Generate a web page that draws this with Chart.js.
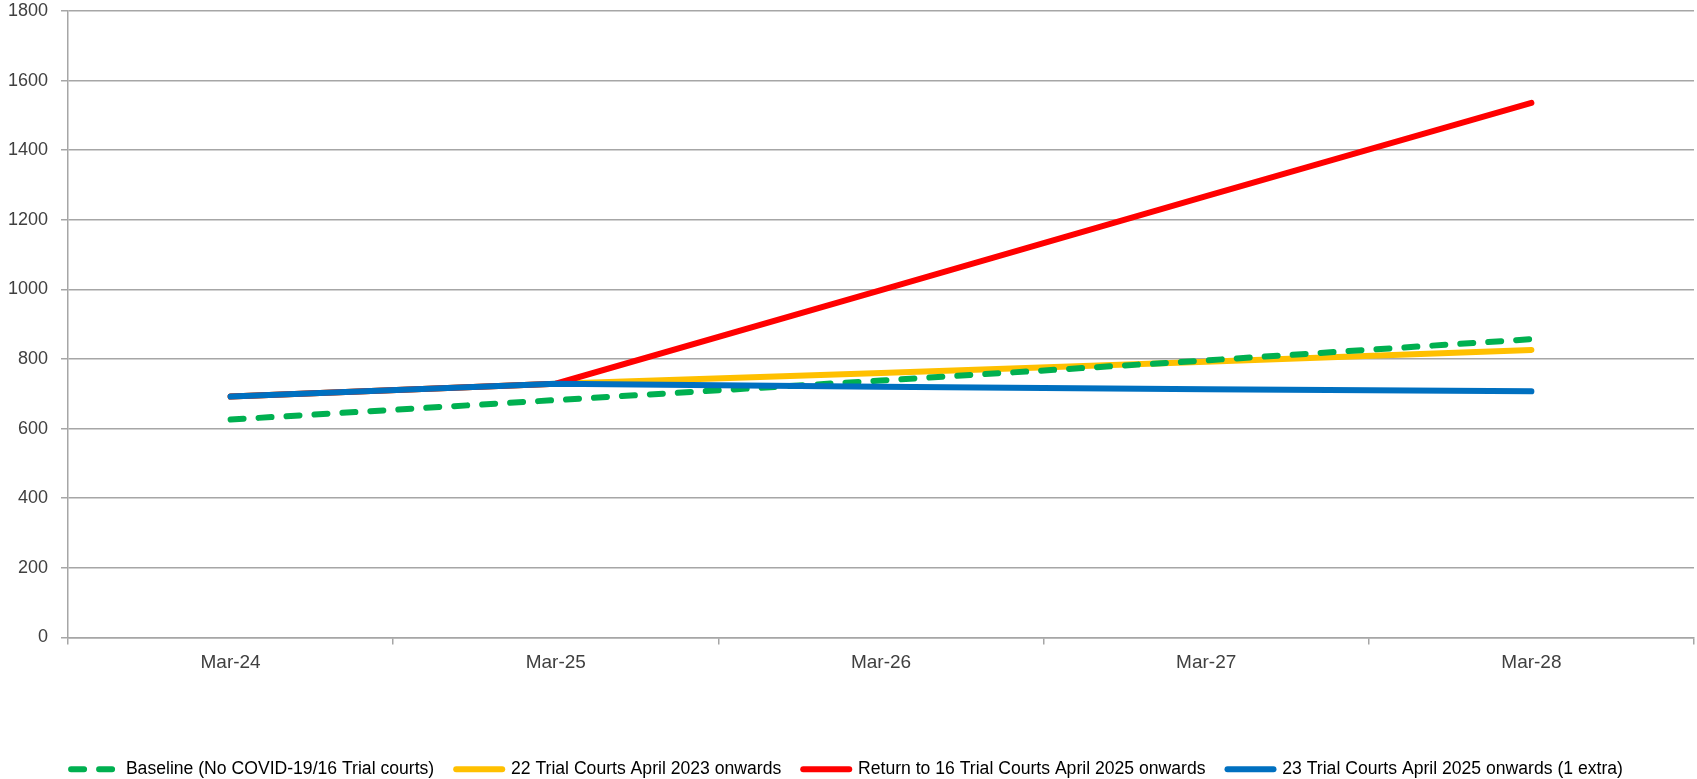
<!DOCTYPE html>
<html>
<head>
<meta charset="utf-8">
<script src="https://cdn.jsdelivr.net/npm/chart.js@4"></script>
<style>
  html, body { margin: 0; padding: 0; background: #fff; }
  #wrap { width: 1697px; height: 779px; position: relative; }
</style>
</head>
<body>
<div id="wrap"><canvas id="chart"></canvas></div>
<script>
// values
const categories = ['Mar-24', 'Mar-25', 'Mar-26', 'Mar-27', 'Mar-28']
const baseline = [626, 682, 738, 796, 857]
const trial22 = [692, 729, 760, 792, 826]
const return16 = [692, 729, 998, 1268, 1536]
const trial23 = [692, 729, 720, 713, 707]
const yTicks = [0, 200, 400, 600, 800, 1000, 1200, 1400, 1600, 1800]

const gridColour = '#a6a6a6'
const textColour = '#404040'
const fontFamily = "'Liberation Sans', Arial, sans-serif"

function series(label, data, colour, order, dash) {
    return {
        label: label,
        data: data,
        borderColor: colour,
        backgroundColor: colour,
        borderWidth: 6,
        borderDash: dash || [],
        borderCapStyle: 'round',
        pointRadius: 0,
        pointHoverRadius: 0,
        pointStyle: 'line',
        tension: 0,
        fill: false,
        order: order
    }
}

// legend items take the dataset's dash pattern too
function legendLabels(chart) {
    const items = Chart.defaults.plugins.legend.labels.generateLabels(chart)
    items.forEach(item => {
        const ds = chart.data.datasets[item.datasetIndex]
        item.lineDash = ds.borderDash
        item.lineCap = 'round'
        item.lineWidth = ds.borderWidth
        item.strokeStyle = ds.borderColor
    })
    return items
}

new Chart(document.getElementById('chart'), {
    type: 'line',
    data: {
        labels: categories,
        datasets: [
            series('Baseline (No COVID-19/16 Trial courts)', baseline, '#00b050', 1, [13, 15]),
            series('22 Trial Courts April 2023 onwards', trial22, '#ffc000', 3),
            series('Return to 16 Trial Courts April 2025 onwards', return16, '#ff0000', 2),
            series('23 Trial Courts April 2025 onwards (1 extra)', trial23, '#0070c0', 0)
        ]
    },
    options: {
        responsive: true,
        maintainAspectRatio: false,
        animation: false,
        layout: { padding: { top: 0, right: 3, bottom: -9, left: 0 } },
        plugins: {
            tooltip: { enabled: false },
            legend: {
                position: 'bottom',
                labels: {
                    usePointStyle: true,
                    pointStyleWidth: 46,
                    boxHeight: 6,
                    padding: 22,
                    color: '#000',
                    font: { family: fontFamily, size: 17.6 },
                    generateLabels: legendLabels,
                    sort: (a, b) => a.datasetIndex - b.datasetIndex
                }
            }
        },
        scales: {
            x: {
                offset: true,
                grid: { offset: true, display: true, drawOnChartArea: false, color: gridColour, lineWidth: 1.5, tickLength: 7 },
                border: { color: gridColour, width: 1.5 },
                ticks: {
                    color: textColour,
                    padding: 7,
                    maxRotation: 0,
                    font: { family: fontFamily, size: 19 }
                },
                afterFit: (scale) => { scale.height = 101 }
            },
            y: {
                min: 0,
                max: 1800,
                afterBuildTicks: (scale) => { scale.ticks = yTicks.map(v => ({ value: v })) },
                grid: { color: gridColour, lineWidth: 1.5, tickLength: 7 },
                border: { color: gridColour, width: 1.5 },
                ticks: {
                    color: textColour,
                    padding: 13,
                    font: { family: fontFamily, size: 18, lineHeight: 1 },
                    callback: (v) => String(v)
                },
                afterFit: (scale) => {
                    scale.width = 68
                    scale.paddingTop = 11
                    scale.paddingBottom = 11
                }
            }
        }
    }
})
</script>
</body>
</html>
